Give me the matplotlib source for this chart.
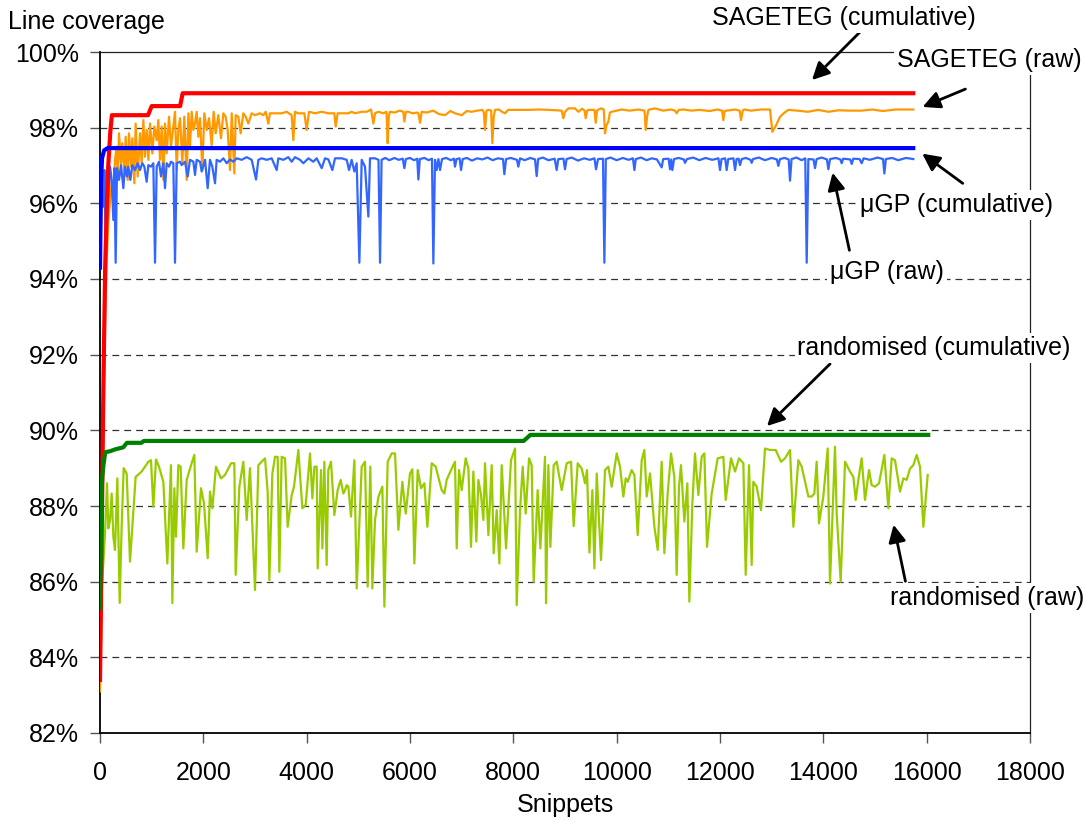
import matplotlib
matplotlib.use("Agg")
import matplotlib.pyplot as plt
from matplotlib.ticker import FuncFormatter

plt.rcParams['font.family'] = ['Liberation Sans', 'DejaVu Sans']

# ---------------- data ----------------
sage_cum_x = [0, 20, 40, 60, 80, 100, 130, 160, 200, 230, 930, 1000, 1550, 1600, 15740]
sage_cum_y = [83.4, 85.5, 88.0, 90.5, 92.5, 94.3, 95.8, 97.0, 97.9, 98.33, 98.33, 98.57, 98.57, 98.91, 98.91]

mugp_cum_x = [0, 20, 40, 80, 150, 15740]
mugp_cum_y = [94.3, 96.6, 97.2, 97.4, 97.46, 97.46]

rand_cum_x = [0, 20, 40, 60, 100, 200, 300, 450, 520, 800, 850, 8200, 8330, 16030]
rand_cum_y = [85.3, 87.5, 88.7, 89.0, 89.42, 89.45, 89.5, 89.55, 89.67, 89.67, 89.72, 89.72, 89.88, 89.88]

sage_raw_x = [0, 20, 40, 60, 80, 100, 130, 160, 200, 230,
              258, 290, 323, 342, 368, 406, 432, 471, 497, 536, 561, 600, 626, 665, 690, 729, 774, 806, 839, 871,
              903, 936, 968, 1013, 1052, 1097, 1129, 1161, 1194, 1226, 1258, 1290, 1336, 1374, 1419, 1452, 1484,
              1516, 1549, 1594, 1632, 1678, 1710, 1742, 1774, 1807, 1839, 1871, 1903, 1936, 1981, 2019, 2065,
              2110, 2161, 2200, 2239, 2290, 2342, 2387, 2432, 2471, 2516, 2549, 2600, 2626, 2677, 2723, 2774,
              2819, 2871, 2936, 3000, 3097, 3161, 3207, 3258, 3290, 3387, 3516, 3613, 3710, 3742, 3774, 3826,
              3955, 4000, 4045, 4162, 4291, 4420, 4536, 4562, 4600, 4807, 4871, 4936, 5065, 5162, 5246, 5291,
              5323, 5388, 5484, 5545, 5568, 5590, 5613, 5700, 5800, 5870, 5891, 5920, 5968, 6050, 6140, 6162,
              6194, 6226, 6320, 6450, 6560, 6678, 6780, 6871, 7000, 7100, 7194, 7300, 7400, 7430, 7452, 7480,
              7517, 7570, 7594, 7620, 7646, 7723, 7780, 7839, 7900, 8050, 8291, 8500, 8700, 8936, 8968, 9000,
              9065, 9194, 9259, 9330, 9380, 9400, 9430, 9452, 9570, 9594, 9620, 9646, 9710, 9750, 9775, 9800,
              9839, 9870, 9904, 10000, 10097, 10250, 10420, 10540, 10562, 10590, 10614, 10742, 10900, 11050,
              11129, 11161, 11200, 11290, 11450, 11600, 11800, 11950, 12040, 12065, 12090, 12129, 12291, 12380,
              12407, 12440, 12471, 12600, 12800, 12968, 13013, 13080, 13162, 13250, 13323, 13500, 13700, 13900,
              14097, 14300, 14500, 14742, 14950, 15150, 15400, 15742]
sage_raw_y = [83.1, 84.5, 87.0, 89.5, 91.5, 93.0, 94.5, 95.5, 96.2, 96.6,
              95.91, 97.15, 97.50, 96.62, 97.85, 97.06, 97.59, 96.79, 97.76, 96.62, 97.85, 96.97, 97.72, 96.53,
              98.11, 96.71, 97.85, 97.06, 98.20, 97.23, 97.94, 97.15, 98.11, 97.32, 98.03, 97.67, 98.20, 97.15,
              98.03, 96.62, 98.11, 97.32, 98.29, 97.50, 98.03, 98.42, 96.88, 97.94, 98.25, 97.06, 98.29, 96.62,
              98.38, 97.50, 98.42, 97.94, 98.11, 98.42, 97.76, 98.25, 96.88, 98.38, 97.94, 98.25, 97.54, 98.42,
              97.85, 98.33, 97.72, 98.38, 98.29, 97.94, 96.88, 98.38, 96.79, 98.33, 98.29, 97.85, 98.38, 98.29,
              98.11, 98.38, 98.33, 98.38, 98.33, 98.42, 98.11, 98.38, 98.38, 98.38, 98.42, 98.33, 97.67, 98.42,
              98.38, 98.38, 97.94, 98.42, 98.38, 98.42, 98.38, 98.38, 98.03, 98.38, 98.38, 98.42, 98.38, 98.42,
              98.42, 98.48, 98.11,
              98.38, 98.42, 98.38, 98.42, 97.59, 98.30, 98.42, 98.40, 98.45, 98.42, 98.16, 98.42, 98.42, 98.38,
              98.40, 98.38, 98.13, 98.42, 98.40, 98.45, 98.36, 98.33, 98.44, 98.38, 98.33, 98.44, 98.42, 98.45,
              98.47, 98.40, 97.94, 98.45, 98.47, 98.45, 97.59, 98.30, 98.47, 98.48, 98.42, 98.38, 98.47, 98.47,
              98.47, 98.48, 98.47, 98.45, 98.25, 98.42, 98.51, 98.51, 98.42, 98.50, 98.45, 98.25, 98.45, 98.47,
              98.47, 98.13, 98.45, 98.48, 98.51, 98.48, 97.85, 98.05, 98.16, 98.40, 98.42, 98.45, 98.48, 98.45,
              98.48, 98.45, 97.94, 98.30, 98.47, 98.51, 98.45, 98.48, 98.45, 98.38, 98.47, 98.48, 98.45, 98.47,
              98.44, 98.48, 98.45, 98.20, 98.44, 98.45, 98.48, 98.45, 98.20, 98.45, 98.48, 98.45, 98.48, 98.48,
              97.89, 98.05, 98.29, 98.40, 98.47, 98.45, 98.42, 98.47, 98.42, 98.46, 98.45, 98.45, 98.48, 98.44,
              98.48, 98.48]

mugp_raw_x = [0, 19, 32, 58, 84, 110, 136, 161, 194, 226, 258, 277, 303, 329, 368, 406, 452, 484, 523, 548,
              587, 626, 677, 729, 774, 819, 858, 903, 936, 987, 1032, 1065, 1097, 1142, 1181, 1226, 1258, 1290,
              1336, 1374, 1419, 1452, 1484, 1549, 1581, 1645, 1697, 1742, 1807, 1839, 1871, 1936, 1968, 2033,
              2084, 2129, 2174, 2226, 2258, 2323, 2387, 2452, 2516, 2581, 2645, 2742, 2839, 2936, 3020, 3065,
              3129, 3226, 3323, 3420, 3452, 3549, 3645, 3710, 3774, 3871, 3936, 4033, 4129, 4194, 4291, 4355,
              4420, 4497, 4549, 4678, 4775, 4820, 4871, 4923, 4968, 5020, 5065, 5129, 5194, 5226,
              5323, 5390, 5420, 5450, 5520, 5600, 5700, 5780, 5860, 5891, 5920, 6000, 6080, 6140, 6162, 6190,
              6280, 6360, 6425, 6452, 6484, 6516, 6550, 6581, 6620, 6700, 6790, 6850, 6871, 6900, 6960, 6988,
              7020, 7100, 7200, 7300, 7400, 7500, 7600, 7700, 7800, 7826, 7860, 7950, 8070, 8097, 8130, 8220,
              8330, 8420, 8452, 8480, 8570, 8680, 8800, 8839, 8870, 8970, 9000, 9030, 9130, 9250, 9370, 9480,
              9570, 9600, 9640, 9735, 9762, 9790, 9880, 10000, 10120, 10230, 10315, 10343, 10370, 10470, 10580,
              10680, 10780, 10871, 10900, 11005, 11032, 11055, 11078, 11110, 11200, 11300, 11323, 11360, 11480,
              11600, 11720, 11850, 11970, 12000, 12030, 12100, 12129, 12160, 12260, 12291, 12320, 12360, 12387,
              12420, 12500, 12590, 12613, 12640, 12750, 12870, 13000, 13100, 13129, 13160, 13250, 13330, 13355,
              13385, 13480, 13580, 13650, 13678, 13710, 13810, 13839, 13870, 13970, 14070, 14097, 14130, 14240,
              14330, 14355, 14385, 14520, 14550, 14580, 14700, 14742, 14780, 14900, 15050, 15155, 15181, 15210,
              15330, 15450, 15600, 15742]
mugp_raw_y = [94.3, 95.38, 96.79, 95.91, 96.88, 95.03, 96.79, 96.18, 96.97, 96.62, 95.56, 96.93, 94.43, 96.93,
              96.62, 97.01, 96.40, 96.97, 96.71, 96.97, 96.62, 97.01, 96.88, 97.06, 96.88, 97.06, 96.97, 96.57,
              97.01, 96.97, 97.06, 94.43, 96.97, 97.10, 96.71, 97.06, 96.40, 97.06, 96.97, 97.10, 97.06, 94.43,
              97.06, 97.10, 97.01, 97.10, 96.71, 97.15, 97.10, 96.75, 97.15, 97.10, 96.84, 97.15, 96.40, 97.15,
              96.97, 96.53, 97.15, 97.10, 97.19, 97.06, 97.16, 97.10, 97.19, 97.15, 97.22, 97.15, 96.63, 97.15,
              97.19, 97.15, 97.19, 96.88, 97.19, 97.15, 97.22, 97.10, 97.22, 97.15, 97.06, 97.19, 97.10, 97.19,
              96.93, 97.19, 97.16, 96.88, 97.19, 97.19, 97.15, 96.88, 97.15, 96.84, 97.06, 94.43, 97.15, 96.97,
              95.65, 97.19,
              97.19, 97.15, 94.43, 97.15, 97.20, 97.14, 97.20, 97.15, 97.18, 96.93, 97.17, 97.20, 97.14, 97.18,
              96.63, 97.17, 97.20, 97.14, 97.18, 94.41, 97.15, 96.88, 97.17, 96.88, 97.17, 97.20, 97.14, 97.18,
              96.97, 97.17, 97.19, 96.88, 97.17, 97.20, 97.13, 97.19, 97.16, 97.21, 97.14, 97.19, 97.17, 96.77,
              97.17, 97.20, 97.15, 96.97, 97.19, 97.14, 97.20, 97.16, 96.72, 97.17, 97.21, 97.14, 97.18, 96.88,
              97.17, 97.18, 96.90, 97.17, 97.21, 97.13, 97.19, 97.15, 97.19, 96.90, 97.17, 97.18, 94.43, 97.17,
              97.21, 97.14, 97.20, 97.15, 97.19, 96.88, 97.17, 97.21, 97.14, 97.19, 97.16, 96.95, 97.17, 97.18,
              96.90, 97.16, 96.88, 97.17, 97.20, 97.16, 97.07, 97.17, 97.21, 97.14, 97.20, 97.15, 97.19, 96.88,
              97.17, 97.19, 96.88, 97.17, 97.19, 96.88, 97.17, 97.18, 97.01, 97.17, 97.20, 97.15, 97.07, 97.17,
              97.21, 97.14, 97.20, 97.16, 96.99, 97.17, 97.20, 97.16, 96.60, 97.17, 97.21, 97.14, 97.19, 94.43,
              97.17, 97.16, 96.93, 97.17, 97.21, 97.16, 96.90, 97.17, 97.20, 97.16, 97.06, 97.18, 97.16, 97.04,
              97.18, 97.17, 97.06, 97.19, 97.15, 97.21, 97.17, 96.79, 97.17, 97.20, 97.14, 97.20, 97.17]

rand_raw_x = [0, 15, 32, 65, 97, 136, 161, 194, 226, 258, 290, 336, 381, 419, 458, 516, 581, 690, 806, 936,
              987, 1032, 1084, 1142, 1226, 1303, 1374, 1400, 1439, 1471, 1516, 1561, 1613, 1678, 1774, 1826, 1871,
              1955, 2013, 2084, 2129, 2174, 2245, 2342, 2419, 2536, 2600, 2626, 2697, 2774, 2839, 2903, 3000,
              3065, 3194, 3245, 3278, 3336, 3387, 3439, 3471, 3516, 3581, 3632, 3710, 3755, 3839, 3916, 3981,
              4065, 4110, 4149, 4194, 4213, 4278, 4304, 4342, 4387, 4419, 4471, 4536, 4600, 4658, 4710, 4742,
              4775, 4807, 4858, 4923, 4968, 5065, 5129, 5181, 5232, 5271, 5323, 5388, 5465, 5504, 5568, 5646,
              5710, 5775, 5852, 5917, 6000, 6046, 6084, 6149, 6213, 6278, 6336, 6420, 6497, 6613, 6665, 6710,
              6794, 6871, 6904, 6949, 7000, 7078, 7130, 7181, 7226, 7284, 7323, 7375, 7420, 7452, 7517, 7581,
              7620, 7678, 7730, 7775, 7859, 7955, 8033, 8065, 8130, 8181, 8239, 8304, 8355, 8394, 8471, 8523,
              8613, 8633, 8678, 8717, 8781, 8839, 8936, 9033, 9117, 9168, 9246, 9323, 9388, 9426, 9472, 9530,
              9569, 9614, 9697, 9775, 9839, 9904, 10001, 10065, 10130, 10175, 10214, 10291, 10343, 10407, 10485,
              10536, 10581, 10646, 10730, 10794, 10871, 10923, 10987, 11052, 11116, 11161, 11207, 11245, 11310,
              11368, 11407, 11465, 11516, 11581, 11645, 11697, 11749, 11839, 11955, 12065, 12110, 12213, 12291,
              12368, 12452, 12497, 12562, 12613, 12645, 12710, 12794, 12871, 12968, 13078, 13181, 13258, 13355,
              13420, 13516, 13581, 13710, 13774, 13826, 13871, 13916, 14000, 14084, 14129, 14226, 14258, 14336,
              14420, 14516, 14581, 14626, 14678, 14742, 14807, 14884, 14936, 15000, 15078, 15181, 15258, 15323,
              15387, 15484, 15549, 15613, 15678, 15742, 15807, 15871, 15936, 16020]
rand_raw_y = [84.9, 86.0, 85.69, 86.48, 87.28, 88.60, 87.41, 87.63, 88.33, 87.19, 86.84, 88.73, 85.44, 87.45,
              89.00, 88.86, 86.53, 88.77, 88.91, 89.17, 89.21, 87.98, 89.23, 89.04, 88.64, 86.48, 89.08, 85.43,
              88.47, 87.19, 89.08, 89.04, 86.88, 88.69, 89.13, 89.35, 86.79, 88.47, 88.07, 86.62, 88.38, 87.94,
              89.04, 88.73, 88.82, 89.13, 89.13, 86.18, 88.51, 89.17, 87.63, 89.00, 85.78, 89.08, 89.26, 88.38,
              86.04, 88.86, 89.30, 89.30, 86.26, 89.30, 89.26, 87.45, 88.29, 88.51, 89.48, 87.94, 88.03, 89.39,
              88.20, 89.04, 89.04, 86.35, 88.95, 86.88, 89.17, 86.44, 88.95, 89.17, 87.76, 88.42, 88.69, 88.33,
              88.42, 88.55, 88.51, 87.72, 89.21, 85.82, 89.04, 89.17, 85.87, 89.04, 85.82, 87.63, 88.24, 88.51,
              85.34, 89.17, 89.39, 89.39, 87.37, 88.64, 87.80, 88.86, 88.97, 86.48, 88.95, 88.47, 88.60, 87.45,
              89.13, 89.04, 88.42, 88.33, 88.69, 88.95, 89.17, 86.88, 88.95, 88.42, 89.26, 88.99, 86.92, 88.91,
              87.06, 88.69, 88.29, 87.63, 89.13, 87.23, 89.08, 86.75, 87.89, 86.48, 89.08, 86.88, 89.21, 89.52,
              85.38, 87.89, 89.04, 87.80, 89.26, 89.08, 86.00, 88.42, 86.88, 89.30, 85.43, 89.08, 86.92, 89.08,
              89.17, 88.42, 89.13, 89.17, 87.47, 89.13, 88.99, 88.60, 88.95, 86.77, 88.42, 86.35, 88.86, 86.57,
              88.95, 89.04, 88.51, 89.39, 89.04, 88.25, 88.73, 88.64, 88.95, 88.82, 87.23, 89.21, 89.48, 88.25,
              88.86, 87.45, 86.84, 89.17, 86.75, 88.33, 89.39, 88.77, 86.18, 88.51, 89.08, 87.59, 88.60, 85.47,
              88.07, 89.39, 88.29, 89.30, 89.39, 86.92, 88.33, 89.26, 89.30, 88.16, 89.26, 88.91, 89.26, 89.13,
              86.18, 89.08, 86.44, 88.64, 88.51, 87.89, 89.52, 89.48, 89.48, 89.17, 89.26, 89.48, 87.45, 89.21,
              89.04, 88.25, 88.25, 88.33, 89.17, 87.54, 88.25, 89.52, 85.95, 89.57, 87.80, 86.00, 89.17, 88.91,
              88.77, 88.16, 88.69, 89.26, 88.16, 88.95, 88.55, 88.51, 88.60, 89.35, 87.94, 89.26, 89.21, 88.38,
              88.73, 88.69, 88.99, 89.08, 89.35, 89.04, 87.45, 88.82]

x_ticks = [0, 2000, 4000, 6000, 8000, 10000, 12000, 14000, 16000, 18000]
y_ticks = [82, 84, 86, 88, 90, 92, 94, 96, 98, 100]

labels = ["SAGETEG (cumulative)", "SAGETEG (raw)", "\u03bcGP (cumulative)", "\u03bcGP (raw)",
          "randomised (cumulative)", "randomised (raw)"]

# ---------------- figure ----------------
W, H = 1083, 825
FS = 18
fig = plt.figure(figsize=(W / 100, H / 100), dpi=100)
ax = fig.add_axes([100 / W, (H - 733) / H, (1030 - 100) / W, (733 - 52) / H])

ax.plot(sage_raw_x, sage_raw_y, color='#FF9900', lw=1.6, zorder=3)
ax.plot(mugp_raw_x, mugp_raw_y, color='#3366FF', lw=1.6, zorder=3)
ax.plot(rand_raw_x, rand_raw_y, color='#99CC00', lw=1.6, zorder=3)
ax.plot(sage_cum_x, sage_cum_y, color='#FF0000', lw=3, zorder=4)
ax.plot(mugp_cum_x, mugp_cum_y, color='#0000FF', lw=3, zorder=4)
ax.plot(rand_cum_x, rand_cum_y, color='#008000', lw=3, zorder=4)

ax.set_xlim(0, 18000)
ax.set_ylim(82, 100)
ax.set_xticks(x_ticks)
ax.set_yticks(y_ticks)
ax.yaxis.set_major_formatter(FuncFormatter(lambda v, p: f"{int(round(v))}%"))
ax.tick_params(axis='both', labelsize=FS, direction='out', length=7, width=1, color='#555555')
ax.tick_params(axis='y', pad=8)
ax.tick_params(axis='x', pad=13)

for yv in y_ticks[1:-1]:
    ax.axhline(yv, color='#333333', lw=0.9, dashes=(5.5, 4.0), zorder=1)

for s in ['left', 'bottom']:
    ax.spines[s].set_color('black')
    ax.spines[s].set_linewidth(1.3)
for s in ['top', 'right']:
    ax.spines[s].set_color('#222222')
    ax.spines[s].set_linewidth(0.9)

fig.text(8 / W, 1 - 22 / H, "Line coverage", fontsize=FS, ha='left', va='center')
fig.text(565 / W, 1 - 805 / H, "Snippets", fontsize=FS, ha='center', va='center')

# annotation labels (center x px, center y px in image coords)
label_pos = [(844, 18), (989, 60), (956, 205), (887, 272), (934, 348), (987, 598)]
for txt, (px, py) in zip(labels, label_pos):
    fig.text(px / W, 1 - py / H, txt, fontsize=FS, ha='center', va='center',
             bbox=dict(facecolor='white', edgecolor='none', pad=2), zorder=5)

arrows = [((862, 30), (810, 82)), ((968, 88), (920, 108)), ((965, 185), (920, 152)),
          ((850, 253), (832, 170)), ((832, 362), (765, 428)), ((906, 584), (893, 522))]
for (tx, ty), (hx, hy) in arrows:
    ax.annotate('', xy=(hx, H - hy), xycoords='figure pixels',
                xytext=(tx, H - ty), textcoords='figure pixels',
                arrowprops=dict(arrowstyle='-|>', color='black', lw=2, mutation_scale=26),
                annotation_clip=False, zorder=6)

fig.savefig('out.png', dpi=100)
